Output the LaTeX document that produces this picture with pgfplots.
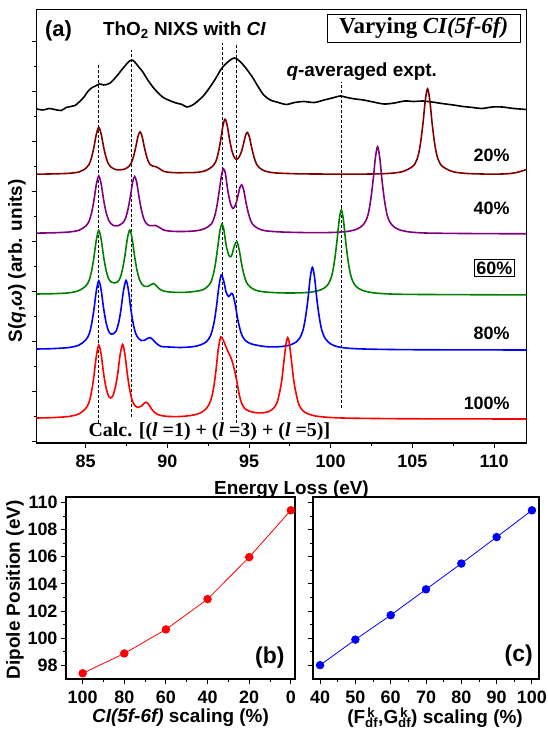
\documentclass[border=0pt]{standalone}
\usepackage{fontspec}
\setmainfont{Liberation Sans}
\newfontfamily\tnr{Liberation Serif}
\usepackage{pgfplots}
\pgfplotsset{compat=1.18}
\definecolor{dred}{RGB}{128,0,0}
\definecolor{dpurple}{RGB}{128,0,128}
\definecolor{dgreen}{RGB}{0,128,0}
\newcommand{\fs}[1]{\fontsize{#1}{#1}\selectfont}
\newcommand{\sk}[1]{#1\rlap{\textsuperscript{\,k}}\textsubscript{df}}
\begin{document}
\begin{tikzpicture}
\useasboundingbox (0,0) rectangle (548bp,731bp);
\pgfplotsset{
 common/.style={scale only axis, axis line style={line width=1.3bp}, tick style={line width=0.9bp, black}, tick align=outside, major tick length=5bp, minor tick length=3bp, xtick pos=bottom, ytick pos=left, /pgf/number format/assume math mode=true, ticklabel style={font=\fs{18}\bfseries}, xticklabel style={yshift=-3bp}, label style={font=\fs{19}\bfseries}},
 spec/.style={smooth, line width=1.6bp, no marks},
 vline/.style={black, line width=0.9bp, dash pattern=on 3bp off 2bp, no marks}
}
% ---------------- panel (a)
\begin{axis}[common, at={(36.7bp,288bp)}, anchor=south west, width=490bp, height=433.7bp,
 xmin=82, xmax=112, ymin=0, ymax=433.7, xtick={85,90,...,110}, minor x tick num=1,
 ytick={2,52,...,402}, minor y tick num=1, yticklabels={},
 xlabel={Energy Loss (eV)}, xlabel style={at={(axis description cs:0.52,-0.108)}, anchor=center},
 ylabel={S(\textit{q},\textit{ω}) (arb. units)}, ylabel style={at={(axis description cs:-0.040,0.42)}, anchor=center}]
% dashed guides
\addplot[vline] coordinates {(85.8,20) (85.8,380)};
\addplot[vline] coordinates {(87.8,26) (87.8,393)};
\addplot[vline] coordinates {(93.35,23) (93.35,400)};
\addplot[vline] coordinates {(94.2,20) (94.2,400)};
\addplot[vline] coordinates {(100.65,35) (100.65,361)};
% experiment
\addplot[spec, black] coordinates {(82.0,334) (82.4,333) (82.75,334.5) (83.1,333.5) (83.5,332.5) (83.8,335.5) (84.1,336.5) (84.35,337.5) (84.6,341) (84.9,346) (85.15,352) (85.4,355.5) (85.6,357) (85.85,359) (86.1,358) (86.3,358.5) (86.5,360) (86.8,365) (87.1,371) (87.4,377) (87.65,381.5) (87.83,383) (88.0,381) (88.25,376) (88.5,371) (88.8,363) (89.16,355) (89.5,349) (89.8,345) (90.2,342) (90.54,340) (90.9,338.5) (91.2,336) (91.55,338) (91.94,343) (92.25,348) (92.57,355) (92.9,363) (93.32,374.5) (93.7,381) (94.1,385) (94.45,381.5) (94.8,375) (95.2,366) (95.57,356) (95.9,348) (96.3,343) (96.8,340.5) (97.27,338.5) (97.8,340.5) (98.35,341.5) (99.0,340.5) (99.6,343) (100.1,345) (100.6,347) (101.0,345.5) (101.5,344) (102.0,343) (102.6,341) (103.27,339) (103.9,340) (104.54,342) (105.1,341.5) (105.6,342) (106.2,341) (106.8,339.5) (107.5,338) (108.1,336.5) (108.7,335.5) (109.25,334.5) (109.9,336) (110.5,336) (111.2,334.5) (112,333.5)};
% 20%
\addplot[spec, dred] coordinates {(82,268.8) (83,269.1) (84,269.7) (84.6,271.1) (85.0,274.5) (85.2,278.4) (85.35,285) (85.5,295.4) (85.65,308.6) (85.8,315.7) (85.95,308.7) (86.1,295.6) (86.25,285.4) (86.4,278.9) (86.6,275.3) (86.8,273.6) (87.05,273.1) (87.3,273.5) (87.55,275.4) (87.75,278.8) (87.9,285) (88.05,294.7) (88.2,306.5) (88.33,311.1) (88.46,306.1) (88.61,294.4) (88.76,284.9) (88.91,279.2) (89.1,276.9) (89.3,276.3) (89.5,274.5) (89.8,271.5) (90.3,270.4) (91.0,270.3) (91.8,270.6) (92.3,272.1) (92.7,275.8) (92.95,280.8) (93.1,289) (93.25,301.6) (93.4,317) (93.53,323.8) (93.66,317.8) (93.81,303.3) (93.96,291.7) (94.1,285.6) (94.25,283.5) (94.4,286.3) (94.55,292) (94.7,301.8) (94.8,308.2) (94.9,310.5) (95.02,306.2) (95.17,294.7) (95.32,285.2) (95.47,278.6) (95.7,274.4) (96.0,271.8) (96.6,270.1) (98.0,269.2) (100,268.9) (102,268.9) (103.5,269.5) (104.4,271.4) (105.0,276.3) (105.2,280.6) (105.35,287.1) (105.5,299.9) (105.65,319.7) (105.8,343.8) (105.93,354.1) (106.06,343.8) (106.21,319.7) (106.36,299.9) (106.51,287.1) (106.66,280.6) (106.86,276.3) (107.46,271.4) (108.36,269.5) (110,268.8) (111,269.5) (111.5,271) (112,273.5)};
% 40%
\addplot[spec, dpurple] coordinates {(82,209.9) (83,210.2) (84,211) (84.6,212.8) (85.0,216.9) (85.2,221.6) (85.35,229.6) (85.5,242.2) (85.65,258.3) (85.8,267.1) (85.95,258.7) (86.1,242.9) (86.25,230.6) (86.4,223) (86.55,219.3) (86.7,217.5) (86.85,217.1) (87.0,217.4) (87.15,218.7) (87.3,220.6) (87.45,225.3) (87.6,234.6) (87.75,248) (87.88,261.3) (88.0,266.5) (88.12,260.9) (88.25,247.5) (88.4,234) (88.55,224.6) (88.7,219.8) (88.9,217.4) (89.1,217.4) (89.3,217.5) (89.5,215.7) (89.8,212.8) (90.3,211.7) (91.0,211.5) (91.8,212.3) (92.3,214.4) (92.7,219.2) (92.9,227) (93.05,238.6) (93.2,254.9) (93.32,268.2) (93.43,274.1) (93.55,269.8) (93.7,252.4) (93.85,240.4) (94.0,234.6) (94.15,237.2) (94.3,245.5) (94.43,254.8) (94.55,258.2) (94.67,253.2) (94.82,240) (94.97,229.2) (95.12,221.7) (95.3,217.3) (95.6,214.2) (96.0,212.2) (97.0,211) (98.5,210.4) (100,210.5) (101.0,211.5) (101.6,213.8) (101.95,217.6) (102.15,222.2) (102.3,229.2) (102.45,243.2) (102.6,263.2) (102.74,285.8) (102.87,296.2) (103.0,285.8) (103.14,263) (103.29,243) (103.44,229) (103.59,222) (103.79,217.4) (104.14,213.6) (104.8,211.1) (106,209.9) (109,209.4) (112,209.2)};
% 60%
\addplot[spec, dgreen] coordinates {(82,149) (83,149.3) (84,150.2) (84.6,152.5) (85.0,157) (85.2,162.2) (85.35,171.1) (85.5,185.2) (85.65,203) (85.8,212.6) (85.95,203.4) (86.1,186) (86.25,172.6) (86.4,164.4) (86.55,161.1) (86.75,160) (86.95,161.1) (87.1,164.8) (87.25,173.4) (87.4,186.9) (87.55,204.4) (87.7,212.9) (87.85,203.6) (88.0,186.1) (88.15,172) (88.3,163.2) (88.45,158.6) (88.6,156.6) (88.8,156.6) (88.95,157.8) (89.15,159.5) (89.3,157.6) (89.5,154.2) (89.8,151.8) (90.3,150.8) (91.0,150.6) (91.7,151.6) (92.2,153.4) (92.6,159) (92.8,167.7) (92.95,180.1) (93.1,197.9) (93.22,212.5) (93.33,218.6) (93.45,214.1) (93.6,197.6) (93.75,188.3) (93.85,186.2) (93.95,188) (94.1,196.9) (94.25,201.4) (94.4,193) (94.55,178.6) (94.7,167.6) (94.85,160.5) (95.05,156.3) (95.4,152.8) (96.0,151) (97.0,150.1) (98.0,150.1) (98.8,150.9) (99.4,153.2) (99.75,156.9) (99.95,162) (100.1,169.6) (100.25,184) (100.4,204.4) (100.52,223) (100.65,233.3) (100.78,223) (100.9,204.2) (101.05,183.8) (101.2,169.4) (101.35,161.8) (101.55,156.7) (101.9,152.9) (102.6,150.2) (104,148.8) (107,148.4) (112,148.1)};
% 80%
\addplot[spec, blue] coordinates {(82,94) (83,94.4) (84,95.5) (84.6,98) (85.0,103) (85.2,108.5) (85.35,118) (85.5,133) (85.65,152) (85.8,162.2) (85.95,152.6) (86.1,134.3) (86.25,120.3) (86.4,112) (86.55,108.9) (86.7,109.2) (86.85,111.6) (87.0,119) (87.15,132.4) (87.3,150.9) (87.47,162.6) (87.62,152.2) (87.77,133.2) (87.92,118.4) (88.07,109.2) (88.25,104.3) (88.4,102.5) (88.6,102.7) (88.8,104.8) (88.95,105.4) (89.1,103.6) (89.3,100) (89.6,96.6) (90.0,96.1) (90.8,95.5) (91.5,96.2) (92.0,97.9) (92.4,101.4) (92.65,107.7) (92.85,119.8) (93.0,135.6) (93.15,155.8) (93.3,168.2) (93.45,162) (93.6,150.7) (93.75,146.5) (93.9,149.2) (94.0,148.9) (94.15,139.1) (94.3,124.5) (94.45,113.6) (94.6,106.6) (94.8,102.2) (95.1,99.3) (95.5,97.7) (96.0,96.4) (96.5,96.1) (97.0,96.5) (97.5,97.9) (97.9,101.1) (98.1,104.7) (98.3,112.6) (98.45,124.9) (98.6,142.8) (98.75,165.8) (98.88,175.6) (99.01,165.8) (99.16,142.8) (99.31,124.8) (99.46,112.5) (99.66,104.5) (99.86,100.8) (100.2,97.4) (100.8,95.2) (102,94) (105,93.3) (112,93)};
% 100%
\addplot[spec, red] coordinates {(82,25) (83,25.4) (84,26.6) (84.6,29.2) (85.0,34.5) (85.2,40.4) (85.35,50.6) (85.5,66.5) (85.65,86.7) (85.8,98) (85.95,88) (86.1,69) (86.25,55) (86.4,47) (86.53,45) (86.66,47.2) (86.81,55.4) (86.96,69.3) (87.11,88.5) (87.26,98.5) (87.41,87.6) (87.56,67.5) (87.71,51.9) (87.86,42) (88.0,37.6) (88.15,35.6) (88.3,36.1) (88.45,37.4) (88.6,40) (88.72,40.8) (88.85,38.8) (89.0,34.8) (89.2,30.8) (89.5,28) (90.0,26.6) (90.8,26.5) (91.5,27.7) (92.0,29.9) (92.4,34.7) (92.65,42.3) (92.82,54) (92.97,71.7) (93.12,94.4) (93.27,106) (93.42,103) (93.57,97) (93.72,91) (93.85,87) (94.0,80) (94.12,72) (94.25,62) (94.4,48.3) (94.55,39.6) (94.75,34.3) (95.0,32) (95.4,30.3) (95.8,30.1) (96.2,31.4) (96.5,34.8) (96.7,39.8) (96.85,48.8) (97.0,62.3) (97.15,83.8) (97.27,99.7) (97.37,105.3) (97.47,99.5) (97.6,81.8) (97.75,61) (97.9,48.2) (98.05,38.5) (98.25,33.2) (98.5,30) (99.0,27.2) (99.8,25.7) (101,24.9) (104,24.3) (108,24.1) (112,24)};
% texts
\node[anchor=west, font=\fs{22}\bfseries] at (axis cs:82.3,412) {(a)};
\node[anchor=west, font=\fs{19}\bfseries] at (axis cs:85.85,413) {ThO\textsubscript{2} NIXS with \textit{CI}};
\node[draw, line width=0.8bp, minimum width=193bp, minimum height=28bp, inner sep=0pt, font=\fs{23}\tnr\bfseries] at (axis cs:105.69,415) {Varying \textit{CI(5f-6f)}};
\node[anchor=west, font=\fs{19}\bfseries] at (axis cs:97.08,371) {\textit{q}-averaged expt.};
\node[anchor=east, font=\fs{18}\bfseries] at (axis cs:111.17,288) {20\%};
\node[anchor=east, font=\fs{18}\bfseries] at (axis cs:111.17,235) {40\%};
\node[anchor=east, draw, line width=0.8bp, inner sep=2.5bp, font=\fs{18}\bfseries] at (axis cs:111.3,175) {60\%};
\node[anchor=east, font=\fs{18}\bfseries] at (axis cs:111.17,110) {80\%};
\node[anchor=east, font=\fs{18}\bfseries] at (axis cs:111.17,40) {100\%};
\node[anchor=west, font=\fs{20}\tnr\bfseries] at (axis cs:84.96,11.5) {Calc. [(\textit{l} =1) + (\textit{l} =3) + (\textit{l} =5)]};
\end{axis}
% ---------------- panel (b)
\begin{axis}[common, at={(66bp,52bp)}, anchor=south west, width=229bp, height=182bp,
 xmin=-2, xmax=108, x dir=reverse, ymin=97, ymax=110.4,
 xtick={0,20,...,100}, minor x tick num=1, ytick={98,100,...,110}, minor y tick num=1,
 xlabel={\textit{CI(5f-6f)} scaling (\%)}, xlabel style={at={(axis description cs:0.5,-0.212)}, anchor=center},
 ylabel={Dipole Position (eV)}, ylabel style={at={(axis description cs:-0.223,0.49)}, anchor=center}]
\addplot[red, line width=0.8bp, mark=*, mark size=3.8bp, mark options={solid}] coordinates {(100,97.42) (80,98.88) (60,100.65) (40,102.88) (20,105.97) (0,109.42)};
\node[font=\fs{23}\bfseries] at (axis description cs:0.89,0.115) {(b)};
\end{axis}
% ---------------- panel (c)
\begin{axis}[common, at={(313bp,52bp)}, anchor=south west, width=226bp, height=182bp,
 xmin=38, xmax=102, ymin=97, ymax=110.4,
 xtick={40,50,...,100}, minor x tick num=1, ytick={98,100,...,110}, minor y tick num=1, yticklabels={},
 xlabel={(\sk{F},\sk{G}) scaling (\%)}, xlabel style={at={(axis description cs:0.54,-0.212)}, anchor=center}]
\addplot[blue, line width=0.8bp, mark=*, mark size=3.8bp, mark options={solid}] coordinates {(40,98.02) (50,99.9) (60,101.7) (70,103.6) (80,105.5) (90,107.45) (100,109.42)};
\node[font=\fs{23}\bfseries] at (axis description cs:0.91,0.13) {(c)};
\end{axis}
\end{tikzpicture}
\end{document}
